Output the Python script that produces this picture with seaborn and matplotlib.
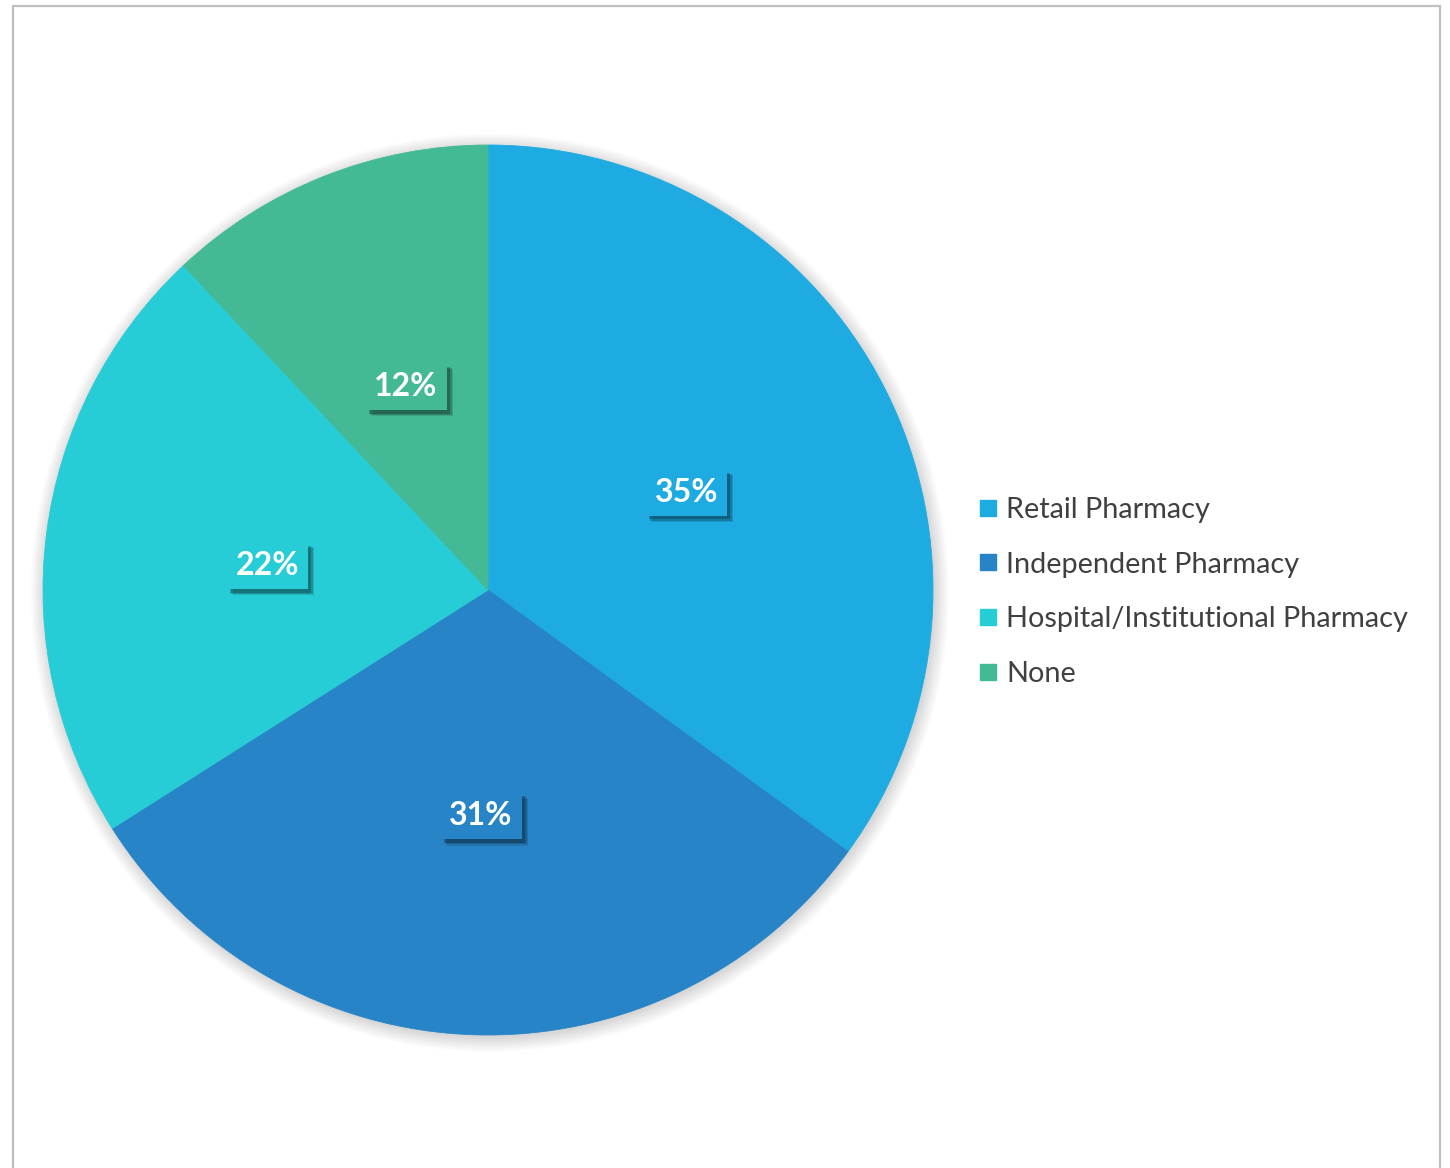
import matplotlib
matplotlib.use("Agg")
import matplotlib.pyplot as plt
import matplotlib.patheffects as pe
from matplotlib.patches import Rectangle, Circle
from matplotlib.lines import Line2D
import seaborn as sns

categories = ["Retail Pharmacy", "Independent Pharmacy", "Hospital/Institutional Pharmacy", "None"]
values = [35, 31, 22, 12]
colors = ["#1EABE2", "#2784C7", "#27CDD6", "#44B995"]

sns.set_theme(style="white")
plt.rcParams["font.family"] = ["Lato", "DejaVu Sans"]
palette = sns.color_palette(colors)

W, H = 1450, 1168
fig = plt.figure(figsize=(W / 100, H / 100), dpi=100)
fig.patch.set_facecolor("white")

cx, cy, r = 488, 590, 445
ax = fig.add_axes([(cx - r) / W, (H - cy - r) / H, 2 * r / W, 2 * r / H])
ax.set_aspect("equal")

# soft shadow behind the pie
for i in range(10):
    ax.add_patch(Circle((0.004, -0.006), 1.0 + 0.0035 * i, facecolor="#000000",
                        alpha=0.016, edgecolor="none", zorder=0, clip_on=False))

wedges, texts, autotexts = ax.pie(
    values, colors=palette, startangle=90, counterclock=False,
    autopct=lambda p: f"{p:.0f}%", pctdistance=0.5, radius=1.0,
    wedgeprops=dict(linewidth=0.6, edgecolor=None),
    textprops=dict(color="white", fontsize=23, fontweight="bold"),
)
for w, c in zip(wedges, palette):
    w.set_edgecolor(c)
    w.set_zorder(2)

for t, c in zip(autotexts, palette):
    x, y = t.get_position()
    t.set_position((x, y - 0.008))
    t.set_bbox(dict(boxstyle="square,pad=0.28", facecolor=c, edgecolor="none"))
    t.get_bbox_patch().set_path_effects([
        pe.SimplePatchShadow(offset=(4.5, -4.5), shadow_rgbFace="#000000", alpha=0.12),
        pe.SimplePatchShadow(offset=(3.5, -3.5), shadow_rgbFace="#000000", alpha=0.18),
        pe.SimplePatchShadow(offset=(2.5, -2.5), shadow_rgbFace="#000000", alpha=0.22),
        pe.Normal(),
    ])
    t.set_zorder(5)

ax.set_xlim(-1.0, 1.0)
ax.set_ylim(-1.0, 1.0)
ax.axis("off")

handles = [Line2D([0], [0], marker="s", linestyle="none", markersize=11,
                  markerfacecolor=c, markeredgecolor=c) for c in palette]
leg = fig.legend(handles, categories, loc="center left",
                 bbox_to_anchor=(976 / W, (H - 592) / H), frameon=False,
                 fontsize=20.8, labelcolor="#404040", handlelength=0.8,
                 handletextpad=0.25, labelspacing=1.0, borderpad=0, borderaxespad=0)

# outer border (no bottom edge visible)
fig.patches.append(Rectangle((13 / W, -0.02), (1440 - 13) / W, (H - 6) / H + 0.02,
                             transform=fig.transFigure, fill=False,
                             edgecolor="#BFBFBF", linewidth=1.6, zorder=10))

fig.savefig("out.png", dpi=100, facecolor="white")
